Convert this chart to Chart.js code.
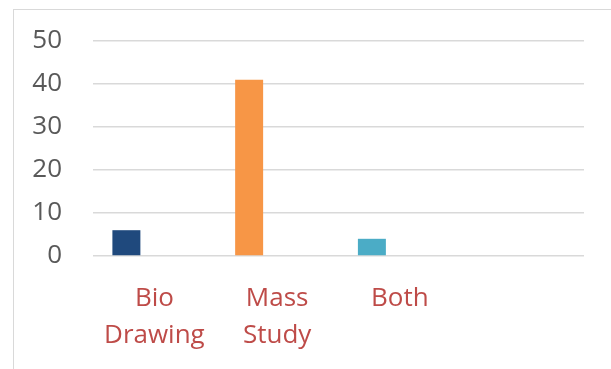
<!DOCTYPE html>
<html>
<head>
<meta charset="utf-8">
<script src="https://cdn.jsdelivr.net/npm/chart.js@4/dist/chart.umd.min.js"></script>
<style>
    html, body { margin: 0; padding: 0; overflow: hidden; background: #fff; }
    #frame {
        position: absolute; left: 13px; top: 9px;
        width: 700px; height: 500px;
        border: 1px solid #d9d9d9;
    }
    #wrap { position: absolute; left: 0; top: 0; width: 611px; height: 369px; }
</style>
</head>
<body>
<div id="frame"></div>
<div id="wrap"><canvas id="chart"></canvas></div>
<script>
// categories (last one is an empty slot, like in the sheet)
const categories = [['Bio', 'Drawing'], ['Mass', 'Study'], 'Both', ''];
const counts = [6, 41, 4, null];
const barColors = ['#1F497D', '#F79646', '#4BACC6', '#4BACC6'];
const yTicks = [0, 10, 20, 30, 40, 50];

const ctx = document.getElementById('chart').getContext('2d');
new Chart(ctx, {
    type: 'bar',
    data: {
        labels: categories,
        datasets: [
            { label: 'Count', data: counts, backgroundColor: barColors },
            { label: 'empty 1', data: [null, null, null, null] },
            { label: 'empty 2', data: [null, null, null, null] }
        ]
    },
    options: {
        responsive: true,
        maintainAspectRatio: false,
        animation: false,
        categoryPercentage: 0.684,
        barPercentage: 1.0,
        layout: { padding: { left: 32, right: 27, top: 41, bottom: 0 } },
        plugins: {
            legend: { display: false },
            tooltip: { enabled: false }
        },
        scales: {
            x: {
                grid: { display: false },
                border: { display: false },
                ticks: {
                    color: '#BE4B48',
                    padding: 16,
                    maxRotation: 0,
                    autoSkip: false,
                    font: { family: 'Open Sans', size: 26, lineHeight: 1.42 }
                },
                afterFit: function (scale) { scale.height = 113; }
            },
            y: {
                min: 0,
                max: 50,
                afterBuildTicks: function (scale) {
                    scale.ticks = yTicks.map(v => ({ value: v }));
                },
                grid: { color: '#d9d9d9', lineWidth: 1.5, drawTicks: false },
                border: { display: false },
                ticks: {
                    color: '#595959',
                    padding: 31,
                    font: { family: 'Open Sans', size: 26 }
                },
                afterFit: function (scale) {
                    scale.width = 61;
                    scale.paddingTop = 0;
                    scale.paddingBottom = 0;
                }
            }
        }
    }
});
</script>
</body>
</html>
